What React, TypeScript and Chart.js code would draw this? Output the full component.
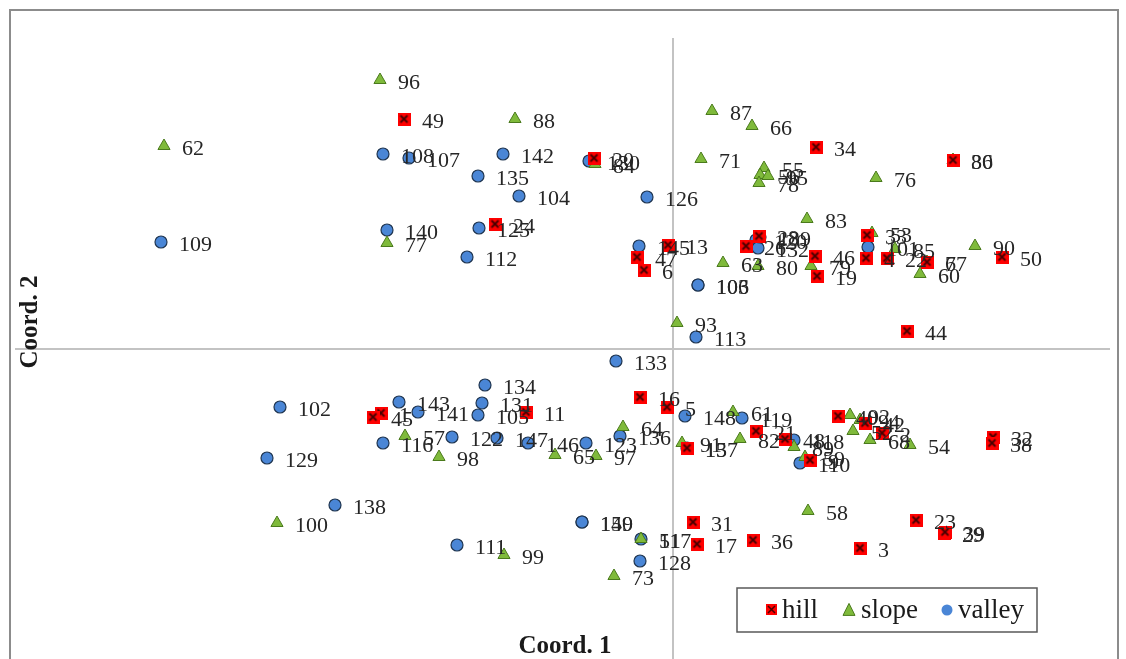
import React, { useEffect, useRef } from "react";
import { Chart, registerables } from "chart.js";
Chart.register(...registerables);

// ---- data (Coord. 1 = x, Coord. 2 = y) ----
const hillIds = [1, 3, 4, 5, 6, 7, 11, 13, 15, 16, 17, 19, 20, 22, 23, 24, 26, 28, 29, 30, 31, 32, 33, 34, 36, 38, 39, 44, 45, 46, 47, 49, 50, 48, 21, 9, 40, 42, 2];
const hillX = [-2.92, 1.87, 1.93, -0.06, -0.29, 2.54, -1.47, -0.05, 0.14, -0.33, 0.24, 1.44, -0.79, 2.14, 2.43, -1.78, 0.73, 0.86, 2.71, 2.8, 0.2, 3.2, 1.94, 1.43, 0.8, 3.19, 2.72, 2.34, -3.0, 1.42, -0.36, -2.69, 3.29, 1.12, 0.83, 1.37, 1.65, 1.92, 2.09];
const hillY = [-0.64, -1.99, 0.91, -0.58, 0.79, 0.87, -0.63, 1.04, -0.99, -0.48, -1.95, 0.73, 1.91, 0.91, -1.71, 1.25, 1.03, 1.13, -1.84, 1.89, -1.73, -0.88, 1.14, 2.02, -1.91, -0.94, -1.83, 0.18, -0.68, 0.93, 0.92, 2.3, 0.92, -0.9, -0.82, -1.11, -0.67, -0.74, -0.84];

const slopeIds = [51, 53, 54, 55, 56, 57, 58, 59, 60, 61, 62, 63, 64, 65, 66, 67, 68, 71, 73, 76, 77, 78, 79, 80, 82, 83, 84, 85, 86, 87, 88, 89, 90, 91, 92, 93, 94, 95, 96, 97, 98, 99, 100, 52];
const slopeX = [-0.32, 1.99, 2.37, 0.91, 0.87, -2.68, 1.35, 1.32, 2.47, 0.6, -5.09, 0.5, -0.5, -1.18, 0.79, 2.54, 1.97, 0.28, -0.59, 2.03, -2.86, 0.86, 1.38, 0.85, 0.67, 1.34, -0.78, 2.22, 2.8, 0.39, -1.58, 1.21, 3.02, 0.09, 1.77, 0.04, 1.87, 0.95, -2.93, -0.77, -2.34, -1.69, -3.96, 1.8];
const slopeY = [-1.9, 1.16, -0.96, 1.81, 1.74, -0.87, -1.62, -1.08, 0.75, -0.63, 2.03, 0.86, -0.78, -1.06, 2.23, 0.87, -0.91, 1.9, -2.27, 1.71, 1.06, 1.66, 0.83, 0.83, -0.9, 1.3, 1.85, 1.0, 1.89, 2.38, 2.3, -0.98, 1.03, -0.94, -0.66, 0.26, -0.71, 1.73, 2.69, -1.07, -1.08, -2.06, -1.74, -0.82];

const valleyIds = [101, 102, 103, 104, 105, 106, 107, 108, 109, 110, 111, 112, 113, 116, 117, 118, 119, 120, 122, 123, 125, 126, 128, 129, 130, 131, 132, 133, 134, 135, 136, 137, 138, 139, 140, 141, 142, 143, 145, 146, 147, 148, 149, 150];
const valleyX = [1.95, -3.93, 0.25, -1.54, -1.95, 0.25, -2.64, -2.9, -5.12, 1.27, -2.16, -2.06, 0.23, -2.9, -0.32, 1.21, 0.69, 0.83, -2.21, -0.87, -1.94, -0.26, -0.33, -4.06, -0.84, -1.91, 0.85, -0.57, -1.88, -1.95, -0.53, 0.14, -3.38, 0.87, -2.86, -2.55, -1.7, -2.74, -0.34, -1.45, -1.76, 0.12, -0.91, -0.91];
const valleyY = [1.02, -0.58, 0.64, 1.53, -0.66, 0.64, 1.91, 1.95, 1.07, -1.14, -1.96, 0.92, 0.12, -0.94, -1.9, -0.91, -0.69, 1.09, -0.88, -0.94, 1.21, 1.52, -2.12, -1.09, 1.88, -0.54, 1.01, -0.12, -0.36, 1.73, -0.87, -0.99, -1.56, 1.12, 1.19, -0.63, 1.95, -0.53, 1.03, -0.94, -0.89, -0.67, -1.73, -1.73];

const seriesNames = ["hill", "slope", "valley"];
const xTitle = "Coord. 1";
const yTitle = "Coord. 2";

const FONT = '"Liberation Serif", "Times New Roman", serif';
const HILL_FILL = "#ff0000";
const SLOPE_FILL = "#7fba3b";
const SLOPE_EDGE = "#4a7a1c";
const VALLEY_FILL = "#4a86d6";
const VALLEY_EDGE = "#1f3550";

function makeHillMarker(): HTMLCanvasElement {
  const c = document.createElement("canvas");
  c.width = 13;
  c.height = 13;
  const g = c.getContext("2d")!;
  g.fillStyle = HILL_FILL;
  g.fillRect(0, 0, 13, 13);
  g.strokeStyle = "#4a0000";
  g.lineWidth = 2;
  g.beginPath();
  g.moveTo(3, 3);
  g.lineTo(10, 10);
  g.moveTo(10, 3);
  g.lineTo(3, 10);
  g.stroke();
  return c;
}

function drawTriangle(ctx: CanvasRenderingContext2D, x: number, y: number, s: number) {
  ctx.beginPath();
  ctx.moveTo(x, y - s * 0.55);
  ctx.lineTo(x + s / 2, y + s * 0.45);
  ctx.lineTo(x - s / 2, y + s * 0.45);
  ctx.closePath();
  ctx.fillStyle = SLOPE_FILL;
  ctx.fill();
  ctx.strokeStyle = SLOPE_EDGE;
  ctx.lineWidth = 1;
  ctx.stroke();
}

const overlay = {
  id: "overlay",
  beforeDatasetsDraw(chart: any) {
    const { ctx, chartArea, scales } = chart;
    const x0 = scales.x.getPixelForValue(0);
    const y0 = scales.y.getPixelForValue(0);
    ctx.save();
    ctx.strokeStyle = "#c3c3c3";
    ctx.lineWidth = 2;
    ctx.beginPath();
    ctx.moveTo(x0, chartArea.top);
    ctx.lineTo(x0, chartArea.bottom);
    ctx.moveTo(chartArea.left, y0);
    ctx.lineTo(chartArea.right, y0);
    ctx.stroke();
    ctx.strokeStyle = "#8c8c8c";
    ctx.lineWidth = 2;
    ctx.strokeRect(10, 10, 1108, 700);
    ctx.restore();
  },
  afterDatasetsDraw(chart: any) {
    const { ctx } = chart;
    ctx.save();
    // point labels
    ctx.font = `22px ${FONT}`;
    ctx.fillStyle = "#262626";
    ctx.textBaseline = "middle";
    ctx.textAlign = "left";
    chart.data.datasets.forEach((ds: any, di: number) => {
      const meta = chart.getDatasetMeta(di);
      meta.data.forEach((el: any, i: number) => {
        ctx.fillText(String(ds.ids[i]), el.x + 18, el.y + 3);
      });
    });
    // axis titles
    ctx.font = `bold 25px ${FONT}`;
    ctx.fillStyle = "#1a1a1a";
    ctx.textAlign = "center";
    ctx.fillText(xTitle, 565, 647);
    ctx.save();
    ctx.translate(31, 322);
    ctx.rotate(-Math.PI / 2);
    ctx.fillText(yTitle, 0, 0);
    ctx.restore();
    // legend
    ctx.fillStyle = "#ffffff";
    ctx.fillRect(737, 588, 300, 44);
    ctx.strokeStyle = "#595959";
    ctx.lineWidth = 1.5;
    ctx.strokeRect(737, 588, 300, 44);
    const ly = 610;
    ctx.fillStyle = HILL_FILL;
    ctx.fillRect(766, ly - 6, 11, 11);
    ctx.strokeStyle = "#4a0000";
    ctx.lineWidth = 1.5;
    ctx.beginPath();
    ctx.moveTo(768, ly - 4);
    ctx.lineTo(775, ly + 3);
    ctx.moveTo(775, ly - 4);
    ctx.lineTo(768, ly + 3);
    ctx.stroke();
    drawTriangle(ctx, 849, ly, 12);
    ctx.beginPath();
    ctx.arc(947, ly, 5.5, 0, Math.PI * 2);
    ctx.fillStyle = VALLEY_FILL;
    ctx.fill();
    ctx.font = `27px ${FONT}`;
    ctx.fillStyle = "#1a1a1a";
    ctx.textAlign = "left";
    ctx.fillText(seriesNames[0], 782, ly + 1);
    ctx.fillText(seriesNames[1], 861, ly + 1);
    ctx.fillText(seriesNames[2], 958, ly + 1);
    ctx.restore();
  },
};

export default function App() {
  const ref = useRef<HTMLCanvasElement>(null);
  useEffect(() => {
    document.body.style.margin = "0";
    const hillMarker = makeHillMarker();
    const toPts = (xs: number[], ys: number[]) => xs.map((x, i) => ({ x, y: ys[i] }));
    const chart = new Chart(ref.current!, {
      type: "scatter",
      data: {
        datasets: [
          {
            label: seriesNames[0],
            ids: hillIds,
            data: toPts(hillX, hillY),
            pointStyle: hillMarker,
            pointRadius: 7,
          } as any,
          {
            label: seriesNames[1],
            ids: slopeIds,
            data: toPts(slopeX, slopeY),
            pointStyle: "triangle",
            pointRadius: 7,
            backgroundColor: SLOPE_FILL,
            borderColor: SLOPE_EDGE,
            borderWidth: 1,
          } as any,
          {
            label: seriesNames[2],
            ids: valleyIds,
            data: toPts(valleyX, valleyY),
            pointStyle: "circle",
            pointRadius: 6,
            backgroundColor: VALLEY_FILL,
            borderColor: VALLEY_EDGE,
            borderWidth: 1.2,
          } as any,
        ],
      },
      options: {
        animation: false,
        responsive: false,
        devicePixelRatio: 1,
        layout: { autoPadding: false, padding: { left: 15, top: 38, right: 16, bottom: 0 } },
        scales: {
          x: { type: "linear", min: -6.58, max: 4.37, display: false },
          y: { type: "linear", min: -3.1, max: 3.11, display: false },
        },
        plugins: { legend: { display: false }, tooltip: { enabled: false } },
        events: [],
      },
      plugins: [overlay],
    });
    return () => chart.destroy();
  }, []);
  return (
    <div style={{ width: 1126, height: 659, background: "#fff" }}>
      <canvas ref={ref} width={1126} height={659} style={{ display: "block" }} />
    </div>
  );
}
